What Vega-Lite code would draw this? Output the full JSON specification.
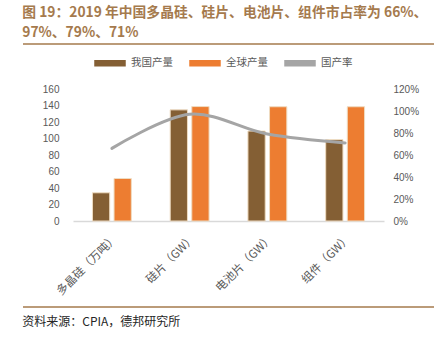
{
  "$schema": "https://vega.github.io/schema/vega-lite/v6.json",
  "background": "white",
  "padding": {"left": 22, "top": 6, "right": 0, "bottom": 0},
  "spacing": 8,
  "config": {
    "view": {"stroke": null},
    "font": "Noto Sans CJK SC",
    "legend": {"layout": {"top": {"anchor": "middle"}}}
  },
  "resolve": {"scale": {"y": "independent", "x": "independent", "color": "independent"}},
  "datasets": {
    "bars": [
      {"category": "多晶硅（万吨）", "series": "我国产量", "value": 34.2},
      {"category": "多晶硅（万吨）", "series": "全球产量", "value": 51.5},
      {"category": "硅片（GW）", "series": "我国产量", "value": 134.7},
      {"category": "硅片（GW）", "series": "全球产量", "value": 138.7},
      {"category": "电池片（GW）", "series": "我国产量", "value": 109},
      {"category": "电池片（GW）", "series": "全球产量", "value": 138.5},
      {"category": "组件（GW）", "series": "我国产量", "value": 98.6},
      {"category": "组件（GW）", "series": "全球产量", "value": 138.5}
    ],
    "rate": [
      {"category": "多晶硅（万吨）", "rate": 0.66},
      {"category": "硅片（GW）", "rate": 0.97},
      {"category": "电池片（GW）", "rate": 0.79},
      {"category": "组件（GW）", "rate": 0.71}
    ]
  },
  "vconcat": [
    {
      "width": 411,
      "height": 5,
      "title": {
        "text": ["图 19：2019 年中国多晶硅、硅片、电池片、组件市占率为 66%、", "97%、79%、71%"],
        "anchor": "start",
        "align": "left",
        "fontSize": 13.8,
        "fontWeight": "bold",
        "color": "#a57a4d",
        "font": "Noto Sans CJK SC",
        "lineHeight": 20,
        "offset": 3
      },
      "data": {"values": [{"line": "header"}]},
      "mark": {"type": "rule", "color": "#a57a4d", "strokeWidth": 1.5},
      "encoding": {
        "y": {"datum": 1, "type": "quantitative", "axis": null, "scale": {"domain": [0, 1]}}
      }
    },
    {
      "width": 411,
      "height": 132,
      "layer": [
        {
          "data": {"name": "bars"},
          "mark": {"type": "bar", "stroke": "#efdcc2", "strokeWidth": 1},
          "encoding": {
            "x": {
              "field": "category",
              "type": "nominal",
              "sort": ["多晶硅（万吨）", "硅片（GW）", "电池片（GW）", "组件（GW）"],
              "scale": {"range": [50, 361], "paddingInner": 0.5, "paddingOuter": 0.25},
              "axis": {
                "title": null,
                "labelAngle": -45,
                "labelAlign": "right",
                "labelBaseline": "top",
                "ticks": false,
                "domainColor": "#d9d9d9",
                "domainWidth": 1.5,
                "labelColor": "#595959",
                "labelFontSize": 11.5,
                "labelPadding": 11,
                "labelFont": "Noto Sans CJK SC"
              }
            },
            "xOffset": {
              "field": "series",
              "type": "nominal",
              "sort": ["我国产量", "全球产量"],
              "scale": {"paddingInner": 0.2, "paddingOuter": 0}
            },
            "y": {
              "field": "value",
              "type": "quantitative",
              "scale": {"domain": [0, 160]},
              "axis": {
                "title": null,
                "values": [0, 20, 40, 60, 80, 100, 120, 140, 160],
                "domain": false,
                "ticks": false,
                "grid": false,
                "offset": -50,
                "labelColor": "#595959",
                "labelFontSize": 10,
                "labelFont": "Liberation Sans",
                "labelPadding": 14
              }
            },
            "color": {
              "field": "series",
              "type": "nominal",
              "scale": {"domain": ["我国产量", "全球产量", "国产率"], "range": ["#845f34", "#ed7d31", "#a5a5a5"]},
              "legend": {
                "title": null,
                "orient": "top",
                "direction": "horizontal",
                "symbolType": "M-3,-0.5H3V0.5H-3Z",
                "symbolSize": 100,
                "labelFontSize": 10.5,
                "labelColor": "#595959",
                "labelOffset": 15,
                "columnPadding": 14,
                "offset": 20,
                "encode": {
                  "symbols": {
                    "update": {
                      "shape": {"signal": "datum.value === '国产率' ? 'M-3.3,-0.3H3.3V0.3H-3.3Z' : 'M-3,-0.5H3V0.5H-3Z'"},
                      "fill": {"signal": "datum.value === '我国产量' ? '#845f34' : datum.value === '全球产量' ? '#ed7d31' : '#a5a5a5'"},
                      "stroke": {"value": "transparent"},
                      "opacity": {"value": 1}
                    }
                  }
                }
              }
            }
          }
        },
        {
          "data": {"name": "rate"},
          "mark": {"type": "line", "interpolate": "cardinal", "strokeWidth": 3, "strokeCap": "round"},
          "encoding": {
            "x": {
              "field": "category",
              "type": "nominal",
              "sort": ["多晶硅（万吨）", "硅片（GW）", "电池片（GW）", "组件（GW）"]
            },
            "y": {
              "field": "rate",
              "type": "quantitative",
              "scale": {"domain": [0, 1.2]},
              "axis": {
                "orient": "right",
                "title": null,
                "format": ".0%",
                "values": [0, 0.2, 0.4, 0.6, 0.8, 1, 1.2],
                "domain": false,
                "ticks": false,
                "grid": false,
                "offset": -50,
                "labelColor": "#595959",
                "labelFontSize": 10,
                "labelFont": "Liberation Sans",
                "labelPadding": 9
              }
            },
            "color": {"datum": "国产率"}
          }
        }
      ],
      "resolve": {"scale": {"y": "independent"}}
    },
    {
      "width": 411,
      "height": 1,
      "title": {
        "text": "资料来源：CPIA，德邦研究所",
        "orient": "bottom",
        "anchor": "start",
        "align": "left",
        "fontSize": 12,
        "fontWeight": "normal",
        "color": "#262626",
        "font": "Noto Sans CJK SC",
        "offset": 9.5
      },
      "data": {"values": [{"line": "footer"}]},
      "mark": {"type": "rule", "color": "#a57a4d", "strokeWidth": 1.5},
      "encoding": {
        "y": {"datum": 0, "type": "quantitative", "axis": null, "scale": {"domain": [0, 1]}}
      }
    }
  ]
}
